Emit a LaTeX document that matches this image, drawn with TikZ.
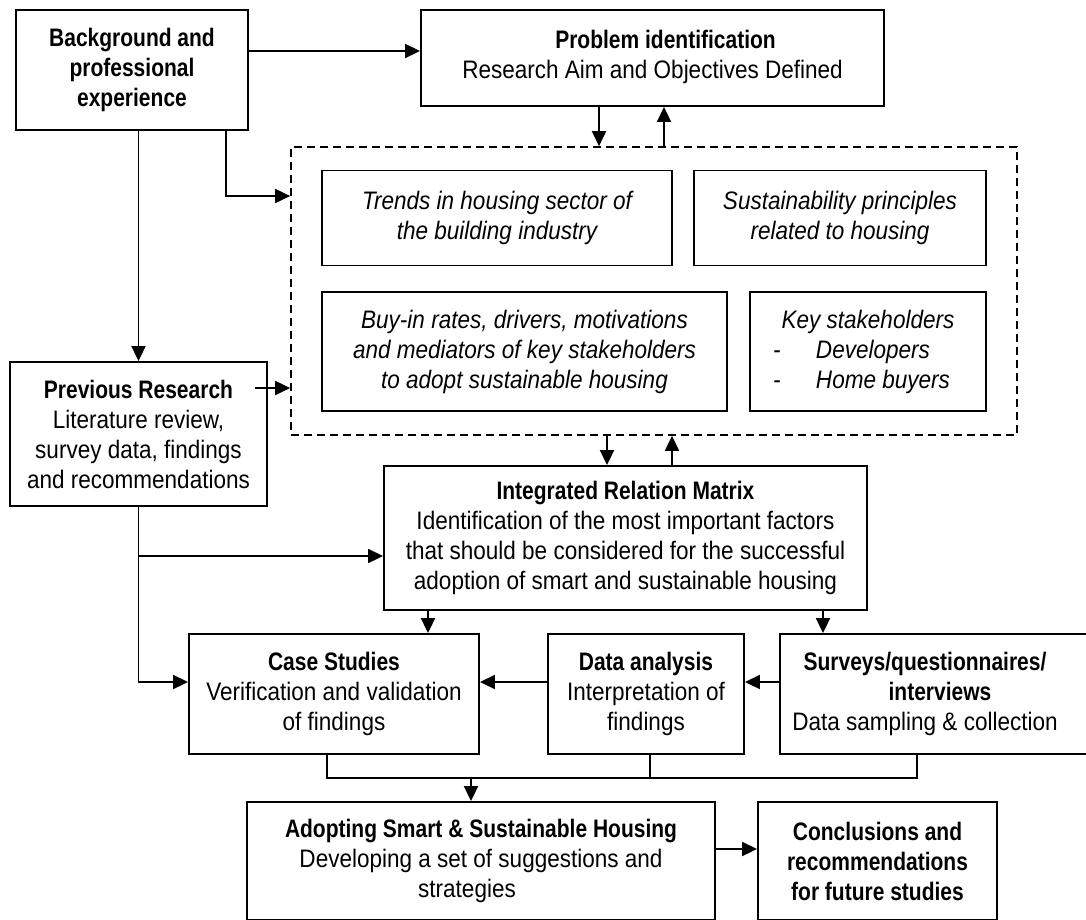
\documentclass[tikz,border=0pt]{standalone}
\usepackage{fontspec}
\setmainfont{Liberation Sans}[UprightFeatures={FakeStretch=0.89}, BoldFeatures={FakeStretch=0.83}, ItalicFeatures={FakeStretch=0.89}, BoldItalicFeatures={FakeStretch=0.83}]
\usetikzlibrary{arrows.meta,calc}
\tikzset{
  box/.style={draw, line width=1.9pt, align=center, inner sep=0pt, font=\fontsize{25.3}{30}\selectfont},
  boxb/.style={box, font=\fontsize{25.3}{30}\selectfont\bfseries},
  boxi/.style={box, font=\fontsize{25.3}{30}\selectfont\itshape},
  dashbox/.style={draw, line width=1.7pt, dash pattern=on 8pt off 5pt, inner sep=0pt},
  arr/.style={line width=1.9pt, -{Triangle[length=15pt,width=14pt]}},
  ln/.style={line width=1.9pt},
}
\begin{document}
\begin{tikzpicture}[x=1pt,y=-1pt]
\useasboundingbox (0,0) rectangle (1086,919);
\fill[white] (0,0) rectangle (1086,919);
\clip (0,0) rectangle (1086,919);

% nodes
\node[boxb, minimum width=232, minimum height=120] (bg) at (132,70)
  {Background and\\professional\\experience};
\node[box, minimum width=463, minimum height=96] (prob) at (652.5,58)
  {\hspace*{26pt}{\bfseries Problem identification}\\Research Aim and Objectives Defined\\[-22pt]};
\node[dashbox, minimum width=726, minimum height=288] (dash) at (654,291) {};
\node[boxi, minimum width=350, minimum height=95] (trends) at (497,218)
  {Trends in housing sector of\\the building industry};
\node[boxi, minimum width=292, minimum height=95] (sust) at (840,218)
  {Sustainability principles\\related to housing};
\node[boxi, minimum width=405, minimum height=119] (buyin) at (524.5,351.5)
  {Buy-in rates, drivers, motivations\\and mediators of key stakeholders\\to adopt sustainable housing};
\node[boxi, minimum width=236, minimum height=119] (key) at (868,351.5)
  {\makebox[200pt]{Key stakeholders}\\
   \makebox[200pt][l]{\hspace*{5pt}\makebox[43pt][l]{-}Developers}\\
   \makebox[200pt][l]{\hspace*{5pt}\makebox[43pt][l]{-}Home buyers}};
\node[box, minimum width=257, minimum height=144] (prev) at (138.5,434)
  {{\bfseries Previous Research}\\Literature review,\\survey data, findings\\and recommendations};
\node[box, minimum width=483, minimum height=144] (irm) at (625.5,538)
  {{\bfseries Integrated Relation Matrix}\\Identification of the most important factors\\that should be considered for the successful\\adoption of smart and sustainable housing};
\node[box, minimum width=290, minimum height=120] (case) at (334,694)
  {{\bfseries Case Studies}\\Verification and validation\\of findings};
\node[box, minimum width=196, minimum height=120] (da) at (646,694)
  {{\bfseries Data analysis}\\Interpretation of\\findings};
\node[box, minimum width=320, minimum height=120] (surv) at (940,694)
  {{\bfseries Surveys/questionnaires/}\hspace*{30pt}\\{\bfseries interviews}\hspace*{30pt}\\Data sampling \& collection\hspace*{30pt}};
\node[box, minimum width=468, minimum height=118] (adopt) at (481,861)
  {{\bfseries Adopting Smart \& Sustainable Housing}\\Developing a set of suggestions and\\strategies\hspace*{28pt}};
\node[boxb, minimum width=239, minimum height=118] (conc) at (877.5,861)
  {Conclusions and\\recommendations\\for future studies};

% connectors
\draw[arr] (bg.east |- 0,51) -- (prob.west |- 0,51);
\draw[arr] (prob.south -| 599,0) -- (dash.north -| 599,0);
\draw[arr] (dash.north -| 664,0) -- (prob.south -| 664,0);
\draw[arr] (bg.south -| 226,0) |- (dash.west |- 0,196);
\draw[arr] (bg.south -| prev.north) -- (prev.north);
\draw[arr] ([xshift=-13pt]prev.east |- 0,388) -- (dash.west |- 0,388);
\draw[arr] (dash.south -| 607,0) -- (irm.north -| 607,0);
\draw[arr] (irm.north -| 672,0) -- (dash.south -| 672,0);
\draw[arr] (prev.south) |- (case.west |- 0,682);
\draw[arr] (prev.south |- 0,556) -- (irm.west |- 0,556);
\draw[arr] (irm.south -| 428,0) -- (case.north -| 428,0);
\draw[arr] (irm.south -| 823,0) -- (surv.north -| 823,0);
\draw[arr] (surv.west |- 0,682) -- (da.east |- 0,682);
\draw[arr] (da.west |- 0,682) -- (case.east |- 0,682);
\coordinate (jl) at (327,778);
\coordinate (jr) at (917,778);
\coordinate (jm) at (471,778);
\draw[ln] (case.south -| jl) -- (jl) -- (jr) -- (surv.south -| jr);
\draw[ln] (da.south -| 650,0) -- (650,778);
\draw[arr] (jm) -- (adopt.north -| jm);
\draw[arr] (adopt.east |- 0,849) -- (conc.west |- 0,849);
\end{tikzpicture}
\end{document}
